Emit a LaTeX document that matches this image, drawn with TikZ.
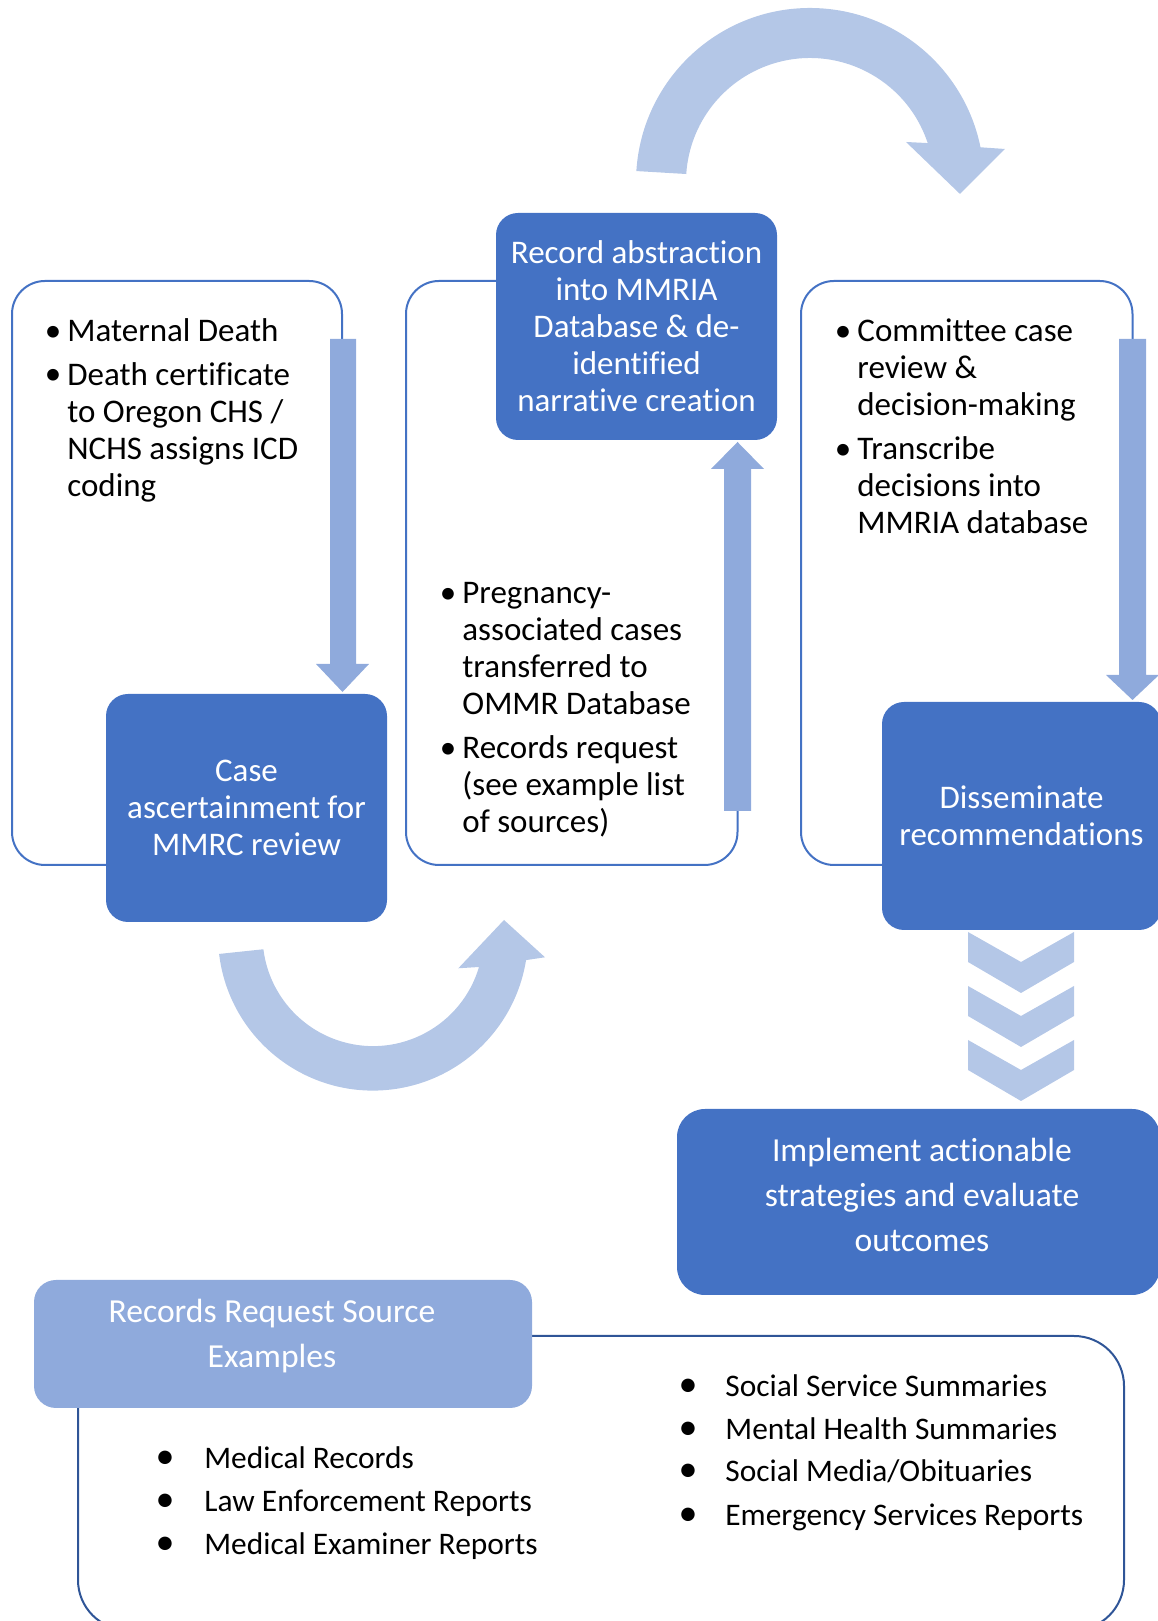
\documentclass[tikz,border=0pt]{standalone}
\usepackage{fontspec}
\setmainfont{Carlito}[Ligatures=NoCommon]

\definecolor{boxblue}{HTML}{4472C4}
\definecolor{shaftblue}{HTML}{8FAADC}
\definecolor{bendblue}{HTML}{B4C7E7}
\definecolor{listframe}{HTML}{2F5597}

\tikzset{
	stepbox/.style={rounded corners=11pt, fill=boxblue, text=white, align=center, inner sep=0pt, font=\fontsize{16.5}{18.5}\selectfont},
	widebox/.style={stepbox, font=\fontsize{16.8}{22.5}\selectfont},
	stageframe/.style={draw=boxblue, line width=1pt, rounded corners=16.5pt},
	sourceframe/.style={draw=listframe, line width=1pt, rounded corners=25pt},
	listtext/.style={anchor=base west, align=left, inner sep=0pt, font=\fontsize{16.5}{18.5}\selectfont},
	listdot/.style={anchor=base, inner sep=0pt, font=\fontsize{16.5}{18.5}\selectfont},
	sourcetext/.style={anchor=base west, inner sep=0pt, font=\fontsize{15.7}{18}\selectfont},
	sourcedot/.style={anchor=base, inner sep=0pt, font=\fontsize{19}{20}\selectfont},
	shaftarrow/.style={fill=shaftblue},
	bendarrow/.style={fill=bendblue}
}

\begin{document}
\begin{tikzpicture}[x=0.5pt, y=0.5pt]
		\useasboundingbox (0,0) rectangle (1157,1621);

		\coordinate (LeftFrameEnd) at (342,1282);
		\coordinate (MiddleFrameEnd) at (737.5,810);
		\coordinate (RightFrameEnd) at (1132.5,1282);
		\coordinate (BendTopCentre) at (810,1439);
		\coordinate (BendBottomCentre) at (373,685.4);

		\draw[stageframe] (106,756) -- (12,756) -- (12,1340) -- (342,1340) -- (LeftFrameEnd);
		\draw[stageframe] (496,1340) -- (406,1340) -- (406,756) -- (737.5,756) -- (MiddleFrameEnd);
		\draw[stageframe] (882,756) -- (801,756) -- (801,1340) -- (1132.5,1340) -- (RightFrameEnd);
		\draw[sourceframe] (532,285) -- (1124,285) -- (1124,-9) -- (78,-9) -- (78,213);

		\fill[shaftarrow] (330,1282) -- (356,1282) -- (356,957) -- (369,957) -- (342.5,929) -- (316,957) -- (330,957) -- cycle;
		\fill[shaftarrow] (724,810) -- (751,810) -- (751,1152) -- (764,1152) -- (737.5,1179) -- (711,1152) -- (724,1152) -- cycle;
		\fill[shaftarrow] (1119,1282) -- (1146,1282) -- (1146,946) -- (1159,946) -- (1132.5,921) -- (1106,946) -- (1119,946) -- cycle;

		\fill[bendarrow] (BendTopCentre) ++(176.4:174) arc[start angle=176.4, end angle=11.5, radius=174]
			-- (1005,1472) -- (960,1427) -- (906,1479) -- (927.7,1477.9)
			arc[start angle=18.3, end angle=176.3, radius=124] -- cycle;
		\fill[bendarrow] (BendBottomCentre) ++(186.8:155) arc[start angle=186.8, end angle=350.9, radius=155]
			-- (545,663.7) -- (504,701) -- (458.3,652.7) -- (479,654)
			arc[start angle=343.5, end angle=187.1, radius=110.5] -- cycle;

		\fill[bendarrow] (968,689) -- (1021,659) -- (1074,689) -- (1074,659) -- (1021,628) -- (968,659) -- cycle;
		\fill[bendarrow] (968,635) -- (1021,605) -- (1074,635) -- (1074,605) -- (1021,574) -- (968,605) -- cycle;
		\fill[bendarrow] (968,581) -- (1021,551) -- (1074,581) -- (1074,551) -- (1021,520) -- (968,551) -- cycle;

		\node[stepbox, minimum width=140.5pt, minimum height=114pt] (CaseBox) at (246.5,813) {Case\\ascertainment for\\MMRC review};
		\node[stepbox, minimum width=140.5pt, minimum height=113.5pt] (RecordBox) at (636.5,1294.5) {Record abstraction\\into MMRIA\\Database \& de-\\identified\\narrative creation};
		\node[stepbox, minimum width=139.5pt, minimum height=114pt] (DisseminateBox) at (1021.5,805) {Disseminate\\recommendations};
		\node[widebox, minimum width=241.5pt, minimum height=93pt, rounded corners=14pt] (ImplementBox) at (918.5,419) {};
		\node[widebox, fill=none] (ImplementText) at (922,426) {Implement actionable\\strategies and evaluate\\outcomes};
		\node[widebox, fill=shaftblue, minimum width=249pt, minimum height=64pt] (SourceHead) at (283,277) {};
		\node[widebox, fill=none] (SourceHeadText) at (272,285) {Records Request Source\\Examples};

		\node[listdot] (LeftDotA) at (53,1279) {•};
		\node[listtext] (MaternalDeath) at (67,1279) {Maternal Death};
		\node[listdot] (LeftDotB) at (53,1236) {•};
		\node[listtext] (DeathCertificate) at (67,1124) {Death certificate\\to Oregon CHS /\\NCHS assigns ICD\\coding};

		\node[listdot] (MiddleDotA) at (448,1017.5) {•};
		\node[listtext] (PregnancyCases) at (462,906) {Pregnancy-\\associated cases\\transferred to\\OMMR Database};
		\node[listdot] (MiddleDotB) at (448,862.5) {•};
		\node[listtext] (RecordsRequest) at (462,788) {Records request\\(see example list\\of sources)};

		\node[listdot] (RightDotA) at (843,1279) {•};
		\node[listtext] (CommitteeReview) at (857,1205) {Committee case\\review \&\\decision-making};
		\node[listdot] (RightDotB) at (843,1161) {•};
		\node[listtext] (TranscribeDecisions) at (857,1087) {Transcribe\\decisions into\\MMRIA database};

		\node[sourcedot] (SourceDotA) at (165,152) {•};
		\node[sourcetext] (MedicalRecords) at (204,152) {Medical Records};
		\node[sourcedot] (SourceDotB) at (165,109) {•};
		\node[sourcetext] (LawReports) at (204,109) {Law Enforcement Reports};
		\node[sourcedot] (SourceDotC) at (165,66) {•};
		\node[sourcetext] (ExaminerReports) at (204,66) {Medical Examiner Reports};

		\node[sourcedot] (SourceDotD) at (688,224) {•};
		\node[sourcetext] (SocialService) at (725,224) {Social Service Summaries};
		\node[sourcedot] (SourceDotE) at (688,181) {•};
		\node[sourcetext] (MentalHealth) at (725,181) {Mental Health Summaries};
		\node[sourcedot] (SourceDotF) at (688,139) {•};
		\node[sourcetext] (SocialMedia) at (725,139) {Social Media/Obituaries};
		\node[sourcedot] (SourceDotG) at (688,95) {•};
		\node[sourcetext] (EmergencyReports) at (725,95) {Emergency Services Reports};
	\end{tikzpicture}
\end{document}
